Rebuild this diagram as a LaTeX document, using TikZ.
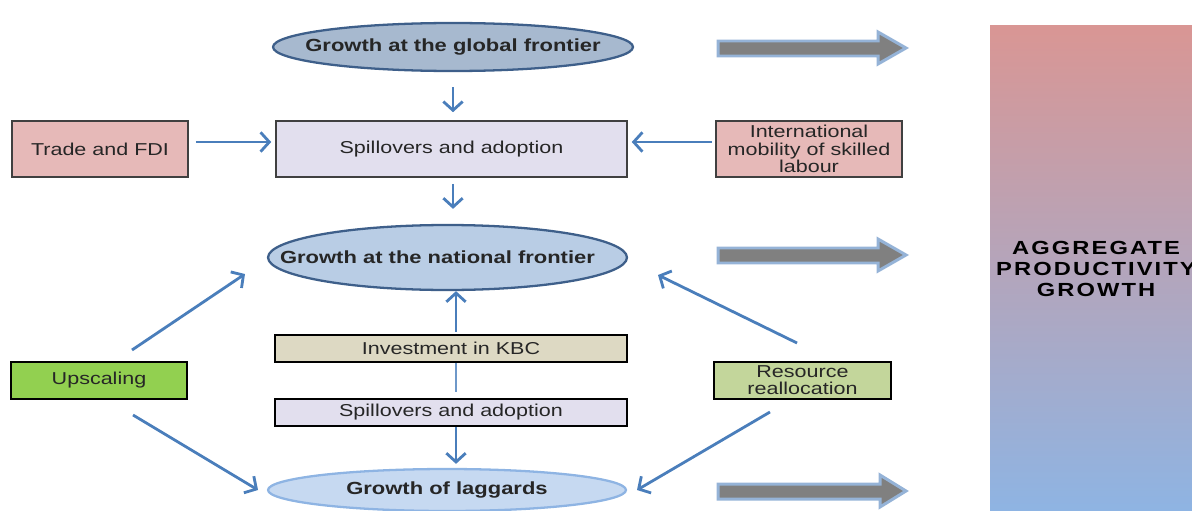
\documentclass[tikz,border=0pt]{standalone}
\usepackage{fontspec}
\setmainfont{Liberation Sans}[FakeStretch=1.25]
\usetikzlibrary{shapes.geometric,arrows.meta}

\definecolor{linkblue}{HTML}{4A7EBB}
\definecolor{globfill}{HTML}{A7B9CF}
\definecolor{globdraw}{HTML}{3E5F8A}
\definecolor{natfill}{HTML}{B9CDE5}
\definecolor{lagfill}{HTML}{C6D9F1}
\definecolor{lagdraw}{HTML}{8EB4E3}
\definecolor{lilac}{HTML}{E2DFEE}
\definecolor{rose}{HTML}{E6B9B8}
\definecolor{sand}{HTML}{DDD9C3}
\definecolor{leaf}{HTML}{92D050}
\definecolor{olive}{HTML}{C3D69B}
\definecolor{aggtop}{HTML}{D99694}
\definecolor{aggbot}{HTML}{8EB4E3}
\definecolor{arrowgray}{HTML}{808080}
\definecolor{arrowedge}{HTML}{95B3D7}

\tikzset{
  every node/.style={font=\fontsize{9.8}{9.8}\selectfont, text=black!85},
  box/.style={rectangle, draw=black!75, line width=0.9pt, inner sep=2pt, align=center},
  blob/.style={ellipse, line width=1.3pt, inner sep=0pt, font=\fontsize{10}{10}\selectfont\bfseries},
  link/.style={-{Straight Barb[length=5pt,width=11pt]}, draw=linkblue, line width=1.6pt},
  bigarrow/.style={fill=arrowgray, draw=arrowedge, line width=1.7pt, line join=miter},
}

\begin{document}
\begin{tikzpicture}[x=0.02cm, y=-0.02cm]
\useasboundingbox (0,0) rectangle (1192,510);
% right column
\shade[top color=aggtop, bottom color=aggbot] (990,26) rectangle (1192,512);
\node[font=\fontsize{10.8}{12}\selectfont\bfseries\addfontfeatures{LetterSpace=11}, align=center, text=black] (agg) at (1096,269) {AGGREGATE\\PRODUCTIVITY\\GROWTH};
% nodes
\node[blob, fill=globfill, draw=globdraw, minimum width=7.2cm, minimum height=0.96cm] (glob) at (453,47) {\makebox[0pt]{Growth at the global frontier}};
\node[box, fill=lilac, minimum width=7.02cm, minimum height=1.12cm] (spillA) at (451.5,149) {Spillovers and adoption};
\node[box, fill=rose, minimum width=3.52cm, minimum height=1.12cm] (trade) at (100,149) {Trade and FDI};
\node[box, fill=rose, minimum width=3.72cm, minimum height=1.12cm] (mobil) at (809,149) {International\\mobility of skilled\\labour};
\node[blob, fill=natfill, draw=globdraw, minimum width=7.18cm, minimum height=1.3cm] (natl) at (447.5,257.5) {\makebox[0pt]{Growth at the national frontier\hspace{0.4cm}}};
\node[box, fill=sand, draw=black, line width=1.2pt, minimum width=7.04cm, minimum height=0.54cm] (kbc) at (451,348.5) {Investment in KBC};
\node[box, fill=lilac, draw=black, line width=1.2pt, minimum width=7.04cm, minimum height=0.54cm] (spillB) at (451,412.5) {Spillovers and adoption};
\node[blob, fill=lagfill, draw=lagdraw, minimum width=7.16cm, minimum height=0.84cm] (lag) at (447,490) {\makebox[0pt]{Growth of laggards}};
\node[box, fill=leaf, draw=black, line width=1.2pt, minimum width=3.52cm, minimum height=0.74cm] (up) at (99,380.5) {Upscaling};
\node[box, fill=olive, draw=black, line width=1.2pt, minimum width=3.54cm, minimum height=0.74cm] (realloc) at (802.5,380.5) {Resource\\reallocation};
% loose arrow ends
\coordinate (upNE) at (132,350);
\coordinate (upSE) at (133,415);
\coordinate (natlW) at (245,274);
\coordinate (lagW) at (258,490);
\coordinate (resNW) at (797,343);
\coordinate (natlE) at (658,275);
\coordinate (resSW) at (770,412);
\coordinate (lagE) at (637,490);
% links
\draw[link, shorten <=0.3cm, shorten >=0.16cm] (glob.south) -- (glob.south |- spillA.north);
\draw[link, shorten <=0.12cm, shorten >=0.3cm] (spillA.south -| glob.south) -- (glob.south |- natl.north);
\draw[link, shorten <=0.14cm, shorten >=0.08cm] ([yshift=0.14cm]trade.east) -- ([yshift=0.14cm]spillA.west);
\draw[link, shorten <=0.06cm, shorten >=0.08cm] ([yshift=0.14cm]mobil.west) -- ([yshift=0.14cm]spillA.east);
\draw[link, shorten <=0.04cm] ([xshift=0.1cm]kbc.north) -- ([xshift=0.1cm]kbc.north |- natl.south);
\draw[draw=linkblue!80, line width=1.6pt, shorten <=0.12cm] ([xshift=0.1cm]spillB.north) -- ([xshift=0.1cm]kbc.south);
\draw[link, shorten >=0.08cm] ([xshift=0.1cm]spillB.south) -- ([xshift=0.1cm]spillB.south |- lag.north);
\draw[link] (upNE) -- (natlW);
\draw[link] (upSE) -- (lagW);
\draw[link] (resNW) -- (natlE);
\draw[link] (resSW) -- (lagE);
% big grey arrows
\draw[bigarrow] (718,41) -- (878,41) -- (878,32) -- (906,48) -- (878,64) -- (878,56) -- (718,56) -- cycle;
\draw[bigarrow] (718,248) -- (878,248) -- (878,239) -- (906,255) -- (878,271) -- (878,263) -- (718,263) -- cycle;
\draw[bigarrow] (718,484) -- (880,484) -- (880,475) -- (906,491) -- (880,507) -- (880,499) -- (718,499) -- cycle;
\end{tikzpicture}
\end{document}
